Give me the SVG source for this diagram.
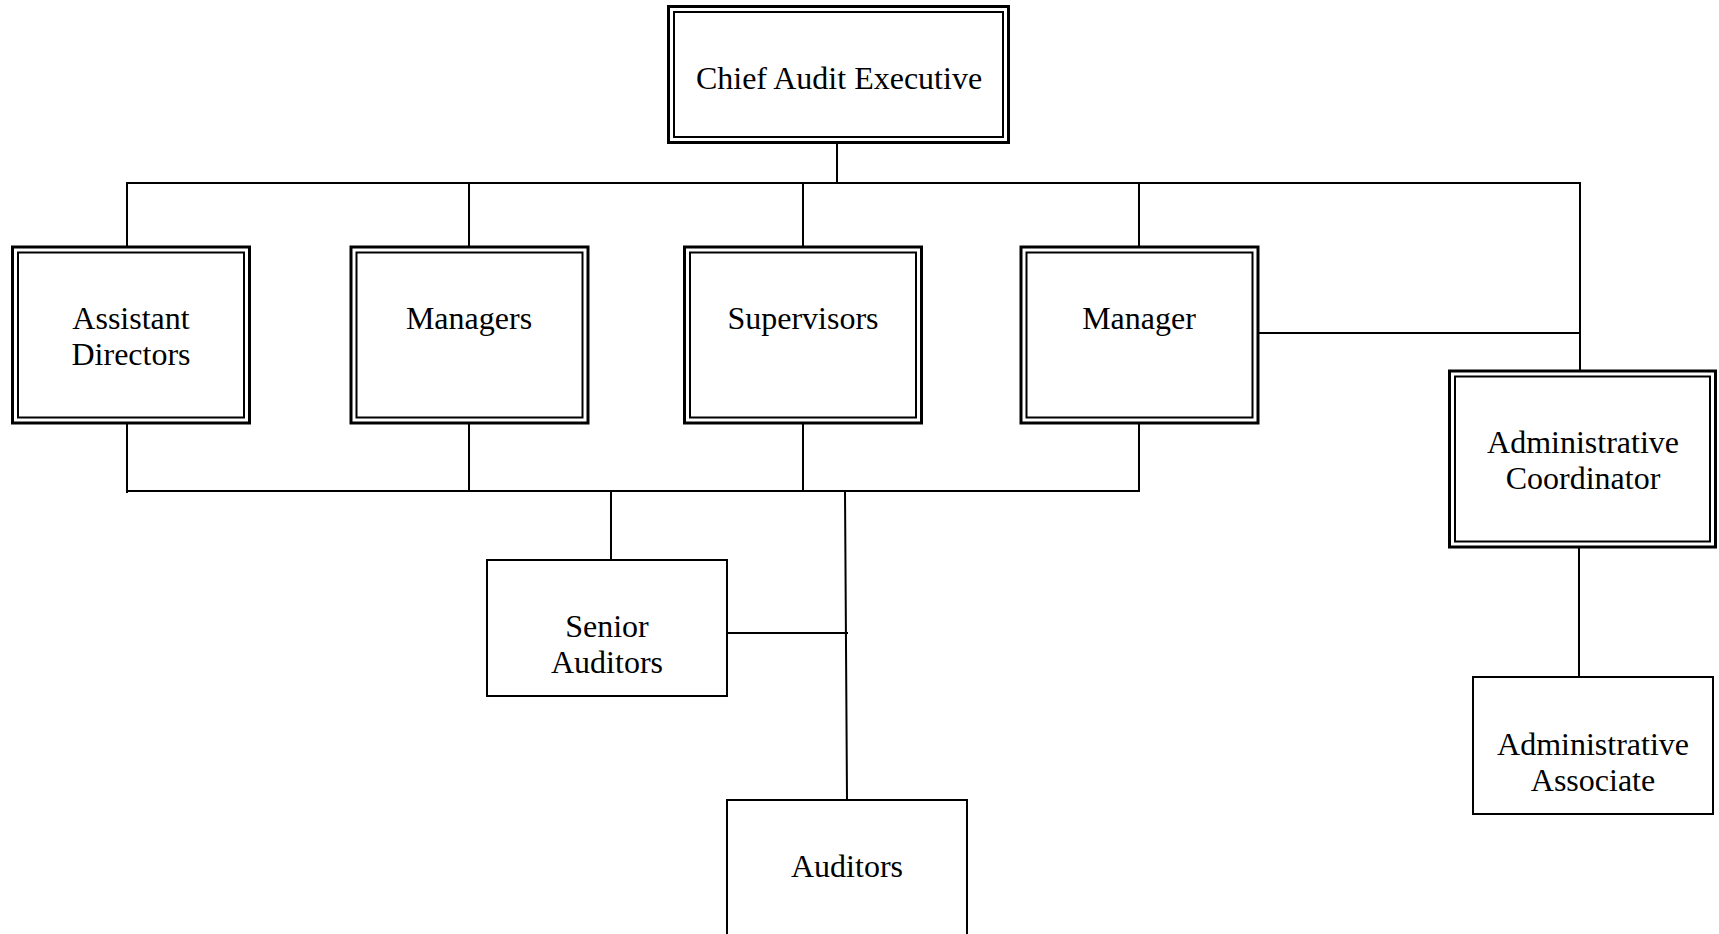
<svg xmlns="http://www.w3.org/2000/svg" width="1719" height="934" viewBox="0 0 1719 934">
<style>
.bg{fill:#fff}
.o{fill:#fff;stroke:#000;stroke-width:3}
.i{fill:none;stroke:#000;stroke-width:2}
.s{fill:#fff;stroke:#000;stroke-width:2}
.c line{stroke:#000;stroke-width:2;stroke-linecap:square}
text{font-family:"Liberation Serif","Times New Roman",serif;font-size:32px;fill:#000;text-anchor:middle}
</style>
<rect class="bg" x="0" y="0" width="1719" height="934"/>
<g id="connectors" class="c">
<line x1="837" y1="144" x2="837" y2="183"/>
<line x1="127" y1="183" x2="1580" y2="183"/>
<line x1="127" y1="183" x2="127" y2="246"/>
<line x1="469" y1="183" x2="469" y2="246"/>
<line x1="803" y1="183" x2="803" y2="246"/>
<line x1="1139" y1="183" x2="1139" y2="246"/>
<line x1="1580" y1="183" x2="1580" y2="370"/>
<line x1="1259" y1="333" x2="1580" y2="333"/>
<line x1="127" y1="424" x2="127" y2="492"/>
<line x1="469" y1="424" x2="469" y2="491"/>
<line x1="803" y1="424" x2="803" y2="491"/>
<line x1="1139" y1="424" x2="1139" y2="491"/>
<line x1="127" y1="491" x2="1139" y2="491"/>
<line x1="611" y1="491" x2="611" y2="560"/>
<line x1="845" y1="491" x2="847" y2="800"/>
<line x1="727" y1="633" x2="847" y2="633"/>
<line x1="1579" y1="548" x2="1579" y2="677"/>
</g>
<g id="chief">
<rect class="o" x="668.5" y="6.5" width="340" height="136"/>
<rect class="i" x="674" y="12" width="329" height="125"/>
<text x="839" y="89">Chief Audit Executive</text>
</g>
<g id="assistant-directors">
<rect class="o" x="12.5" y="247" width="237" height="176"/>
<rect class="i" x="18" y="252.5" width="226" height="165"/>
<text x="131" y="329">Assistant</text>
<text x="131" y="365">Directors</text>
</g>
<g id="managers">
<rect class="o" x="351" y="247" width="237" height="176"/>
<rect class="i" x="356.5" y="252.5" width="226" height="165"/>
<text x="469" y="329">Managers</text>
</g>
<g id="supervisors">
<rect class="o" x="684.5" y="247" width="237" height="176"/>
<rect class="i" x="690" y="252.5" width="226" height="165"/>
<text x="803" y="329">Supervisors</text>
</g>
<g id="manager">
<rect class="o" x="1021" y="247" width="237" height="176"/>
<rect class="i" x="1026.5" y="252.5" width="226" height="165"/>
<text x="1139" y="329">Manager</text>
</g>
<g id="administrative-coordinator">
<rect class="o" x="1449.5" y="371" width="266" height="176"/>
<rect class="i" x="1455" y="376.5" width="255" height="165"/>
<text x="1583" y="453">Administrative</text>
<text x="1583" y="489">Coordinator</text>
</g>
<g id="senior-auditors">
<rect class="s" x="487" y="560" width="240" height="136"/>
<text x="607" y="637">Senior</text>
<text x="607" y="673">Auditors</text>
</g>
<g id="auditors">
<rect class="s" x="727" y="800" width="240" height="145"/>
<text x="847" y="877">Auditors</text>
</g>
<g id="administrative-associate">
<rect class="s" x="1473" y="677" width="240" height="137"/>
<text x="1593" y="755">Administrative</text>
<text x="1593" y="791">Associate</text>
</g>
</svg>
